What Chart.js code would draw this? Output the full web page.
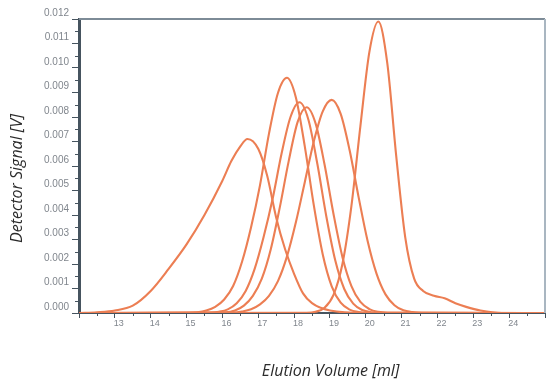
<!DOCTYPE html>
<html><head><meta charset="utf-8">
<script src="https://cdn.jsdelivr.net/npm/chart.js@4/dist/chart.umd.min.js"></script>
<style>html,body{margin:0;padding:0;background:#fff}#wrap{width:547px;height:381px}</style>
</head><body><div id="wrap"><canvas id="c" width="547" height="381"></canvas></div>
<script>
// Tick values
const xMajorTicks = [12,13,14,15,16,17,18,19,20,21,22,23,24,25];
const xLabelTicks = [13,14,15,16,17,18,19,20,21,22,23,24];
const yMajorTicks = [0,0.001,0.002,0.003,0.004,0.005,0.006,0.007,0.008,0.009,0.010,0.011,0.012];

// Series (elution volume [ml] / detector signal [V])
const aX = [12, 12.5, 13, 13.5, 14, 14.5, 15, 15.5, 16, 16.25, 16.5, 16.7, 17, 17.25, 17.5, 17.75, 18, 18.25, 18.5, 19, 20, 25];
const aY = [0, 0.00003, 0.0001, 0.0003, 0.0009, 0.0018, 0.0028, 0.0040, 0.0054, 0.0062, 0.0068, 0.0071, 0.0067, 0.0056, 0.0039, 0.0026, 0.0016, 0.0008, 0.0004, 0.0001, 0, 0];

const bX = [12, 15.05, 15.3, 15.55, 15.8, 16.05, 16.3, 16.55, 16.8, 17.05, 17.3, 17.55, 17.8, 18.05, 18.3, 18.55, 18.8, 19.05, 19.3, 19.55, 19.8, 20.05, 25];
const bY = [0, 0.00001, 0.00003, 0.0001, 0.00025, 0.00055, 0.0011, 0.0021, 0.0035, 0.00522, 0.00732, 0.00898, 0.0096, 0.0088, 0.00679, 0.0044, 0.00239, 0.00109, 0.00042, 0.00014, 0.00004, 0.00001, 0];

const cX = [12, 15.65, 15.9, 16.15, 16.4, 16.65, 16.9, 17.15, 17.4, 17.65, 17.9, 18.15, 18.4, 18.65, 18.9, 19.15, 19.4, 19.65, 19.9, 20.15, 20.4, 25];
const cY = [0, 0.00001, 0.00005, 0.00015, 0.0004, 0.0009, 0.0018, 0.0031, 0.00465, 0.0065, 0.008, 0.0086, 0.00789, 0.00608, 0.00394, 0.00214, 0.00098, 0.00038, 0.00012, 0.00003, 0.00001, 0];

const c2X = [12, 16.1, 16.35, 16.6, 16.85, 17.1, 17.35, 17.6, 17.85, 18.1, 18.35, 18.6, 18.85, 19.1, 19.35, 19.6, 19.85, 20.1, 20.35, 20.6, 25];
const c2Y = [0, 0.00003, 0.0001, 0.0003, 0.0007, 0.0014, 0.0026, 0.0043, 0.0062, 0.0078, 0.0084, 0.00774, 0.00606, 0.00404, 0.00228, 0.0011, 0.00045, 0.00016, 0.000046, 0.000012, 0];

const dX = [12, 16.3, 16.55, 16.8, 17.05, 17.3, 17.55, 17.8, 18.05, 18.3, 18.55, 18.8, 19.05, 19.3, 19.55, 19.8, 20.05, 20.3, 20.55, 20.8, 21.05, 21.3, 21.55, 25];
const dY = [0, 0.00002, 0.00006, 0.00015, 0.00035, 0.0007, 0.0013, 0.0023, 0.0037, 0.00535, 0.007, 0.00823, 0.0087, 0.00813, 0.00664, 0.00473, 0.00295, 0.00161, 0.00076, 0.00032, 0.00011, 0.00004, 0.00001, 0];

const eX = [12, 18.35, 18.6, 18.85, 19.1, 19.35, 19.6, 19.85, 20.1, 20.35, 20.6, 20.85, 21.1, 21.35, 21.6, 21.9, 22.2, 22.5, 22.8, 23.2, 23.8, 25];
const eY = [0, 0.00001, 0.00005, 0.00021, 0.00074, 0.00201, 0.00437, 0.00763, 0.01065, 0.0119, 0.0102, 0.0064, 0.0031, 0.0014, 0.0009, 0.0007, 0.0006, 0.0004, 0.00025, 0.0001, 0, 0];

const seriesX = [aX, bX, cX, c2X, dX, eX];
const seriesY = [aY, bY, cY, c2Y, dY, eY];

const LINE = '#EC7E53';
const AXIS = '#46545f';

const datasets = seriesX.map((xs, i) => ({
  data: xs.map((x, j) => ({x: x, y: seriesY[i][j]})),
  borderColor: LINE,
  borderWidth: 2.1,
  pointRadius: 0,
  fill: false,
  showLine: true,
  cubicInterpolationMode: 'monotone'
}));

const frameAndMinor = {
  id: 'frameAndMinor',
  afterDraw(chart) {
    const ctx = chart.ctx, a = chart.chartArea;
    const xs = chart.scales.x, ys = chart.scales.y;
    ctx.save();
    ctx.strokeStyle = '#7d8b97';
    ctx.lineWidth = 2;
    ctx.beginPath();
    ctx.moveTo(a.left, a.top); ctx.lineTo(a.right, a.top);
    ctx.stroke();
    ctx.strokeStyle = '#a9b6c1';
    ctx.beginPath();
    ctx.moveTo(a.right, a.top); ctx.lineTo(a.right, a.bottom);
    ctx.stroke();
    ctx.strokeStyle = AXIS;
    ctx.lineWidth = 1;
    ctx.beginPath();
    for (let i = 0; i < xMajorTicks.length - 1; i++) {
      const px = Math.round(xs.getPixelForValue(xMajorTicks[i] + 0.5)) + 0.5;
      ctx.moveTo(px, a.bottom); ctx.lineTo(px, a.bottom + 3);
    }
    for (let i = 0; i < yMajorTicks.length - 1; i++) {
      const py = Math.round(ys.getPixelForValue(yMajorTicks[i] + 0.0005)) + 0.5;
      ctx.moveTo(a.left, py); ctx.lineTo(a.left - 4, py);
    }
    ctx.stroke();
    ctx.restore();
  }
};

new Chart(document.getElementById('c'), {
  type: 'scatter',
  data: { datasets },
  options: {
    responsive: false,
    animation: false,
    layout: { padding: { left: 0, right: 2, top: 19, bottom: 0 } },
    plugins: { legend: { display: false }, tooltip: { enabled: false } },
    scales: {
      x: {
        type: 'linear', min: 12, max: 25,
        afterBuildTicks: s => { s.ticks = xMajorTicks.map(v => ({value: v})); },
        afterFit: s => { s.height = 68; },
        ticks: {
          autoSkip: false, maxRotation: 0,
          callback: v => xLabelTicks.includes(v) ? String(v) : '',
          font: { family: 'Liberation Sans', size: 9 },
          color: '#80868d', padding: 0, labelOffset: 4
        },
        grid: { drawOnChartArea: false, drawTicks: true, tickLength: 5, tickColor: AXIS, tickWidth: 1 },
        border: { display: true, color: AXIS, width: 2 },
        title: { display: true, text: '         Elution Volume [ml]',
          font: { family: 'Open Sans', size: 16, style: 'italic' }, color: '#2b2b2b',
          padding: { top: 0, bottom: 0 } }
      },
      y: {
        type: 'linear', min: 0, max: 0.012,
        afterBuildTicks: s => { s.ticks = yMajorTicks.map(v => ({value: v})); },
        afterFit: s => { s.width = 79; },
        ticks: {
          autoSkip: false,
          callback: v => v.toFixed(3),
          font: { family: 'Liberation Sans', size: 10 },
          color: '#80868d', padding: 3, labelOffset: -6
        },
        grid: { drawOnChartArea: false, drawTicks: true, tickLength: 7, tickColor: AXIS, tickWidth: 1 },
        border: { display: true, color: AXIS, width: 3 },
        title: { display: true, text: 'Detector Signal [V]      ',
          font: { family: 'Open Sans', size: 16, style: 'italic' }, color: '#2b2b2b',
          padding: { top: 8, bottom: 0 } }
      }
    }
  },
  plugins: [frameAndMinor]
});
</script>
</body></html>
